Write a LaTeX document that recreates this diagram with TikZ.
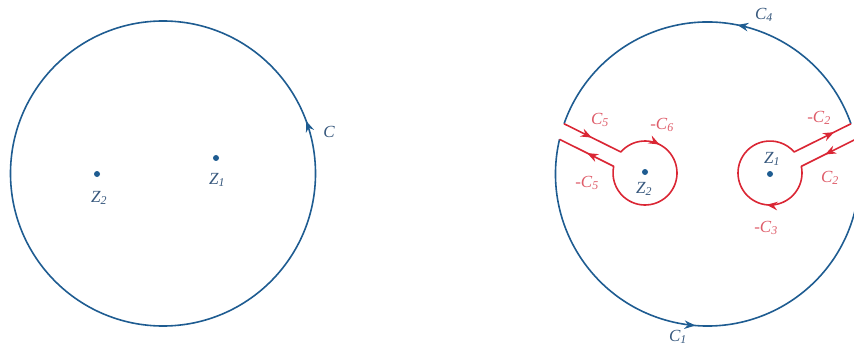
\documentclass[tikz,border=0pt]{standalone}
\usepackage{fontspec}
\setmainfont{Liberation Serif}
\usetikzlibrary{arrows.meta,decorations.markings}
\definecolor{cblue}{RGB}{30,92,145}
\definecolor{cred}{RGB}{218,38,52}
\definecolor{lblue}{RGB}{55,88,125}
\definecolor{lred}{RGB}{222,92,105}
\newcommand{\lbl}[2]{\textit{#1\textsubscript{#2}}}
\tikzset{
  bl/.style={color=cblue, line width=1.6pt},
  rd/.style={color=cred, line width=1.6pt},
  tipa/.tip={Stealth[length=11pt,width=8.5pt]},
  marrows/.style={postaction={decorate}, decoration={markings,
     mark=at position #1 with {\arrow{tipa}}}},
  blab/.style={text=lblue, font=\fontsize{17}{19}\selectfont, inner sep=0pt},
  rlab/.style={text=lred, font=\fontsize{17}{19}\selectfont, inner sep=0pt},
  dotp/.style={circle, fill=cblue, inner sep=0pt, minimum size=6pt},
}
\begin{document}
\begin{tikzpicture}[x=1pt,y=1pt]
\useasboundingbox (0,0) rectangle (854,354);
\clip (0,0) rectangle (854,354);
% ---------- left figure ----------
\coordinate (O1) at (163,180.5);
\draw[bl, marrows=0.056] ([shift={(0:152.5)}]O1) arc[start angle=0, end angle=360, radius=152.5];
\node[dotp] (z2l) at (97,180) {};
\node[dotp] (z1l) at (216,196) {};
\node[blab] (lz2l) at (99,156) {\lbl{Z}{2}};
\node[blab] (lz1l) at (217,174) {\lbl{Z}{1}};
\node[blab] (lc) at (329,222) {\textit{C}};
% ---------- right figure ----------
\coordinate (O2) at (707.5,180);
\coordinate (A) at (645,181);
\coordinate (B) at (770,181);
% outer arcs
\draw[bl, marrows=0.42] ([shift={(19.3:152)}]O2) arc[start angle=19.3, end angle=160.7, radius=152];
\draw[bl, marrows=0.478] ([shift={(166.8:152)}]O2) arc[start angle=166.8, end angle=373.2, radius=152];
% left keyhole around Z2
\coordinate (L1) at ([shift={(160.7:152)}]O2);
\coordinate (L2) at ([shift={(139:32)}]A);
\coordinate (L3) at ([shift={(168:32)}]A);
\coordinate (L4) at ([shift={(166.8:152)}]O2);
\draw[rd, line join=round,
  postaction={decorate}, decoration={markings,
    mark=at position 31pt with {\arrow{tipa}},
    mark=at position 106pt with {\arrow{tipa}},
    mark=at position 278pt with {\arrow{tipa}}}]
  (L1) -- (L2) arc[start angle=139, end angle=-192, radius=32] -- (L4);
% right keyhole around Z1
\coordinate (R1) at ([shift={(13.2:152)}]O2);
\coordinate (R2) at ([shift={(12:32)}]B);
\coordinate (R3) at ([shift={(41:32)}]B);
\coordinate (R4) at ([shift={(19.3:152)}]O2);
\draw[rd, line join=round,
  postaction={decorate}, decoration={markings,
    mark=at position 34pt with {\arrow{tipa}},
    mark=at position 121pt with {\arrow{tipa}},
    mark=at position 290pt with {\arrow{tipa}}}]
  (R1) -- (R2) arc[start angle=12, end angle=-319, radius=32] -- (R4);
% dots
\node[dotp] (z2r) at (645,182) {};
\node[dotp] (z1r) at (770,180) {};
% labels
\node[blab] (lc4) at (764,339) {\lbl{C}{4}};
\node[blab] (lc1) at (678,17) {\lbl{C}{1}};
\node[rlab] (lc5) at (600,234) {\lbl{C}{5}};
\node[rlab] (lc6) at (662,229) {-\lbl{C}{6}};
\node[rlab] (lmc5) at (587,171) {-\lbl{C}{5}};
\node[blab] (lz2r) at (644,165) {\lbl{Z}{2}};
\node[blab] (lz1r) at (772,195) {\lbl{Z}{1}};
\node[rlab] (lmc2) at (819,236) {-\lbl{C}{2}};
\node[rlab] (lc2) at (830,176) {\lbl{C}{2}};
\node[rlab] (lmc3) at (766,126) {-\lbl{C}{3}};
\end{tikzpicture}
\end{document}
